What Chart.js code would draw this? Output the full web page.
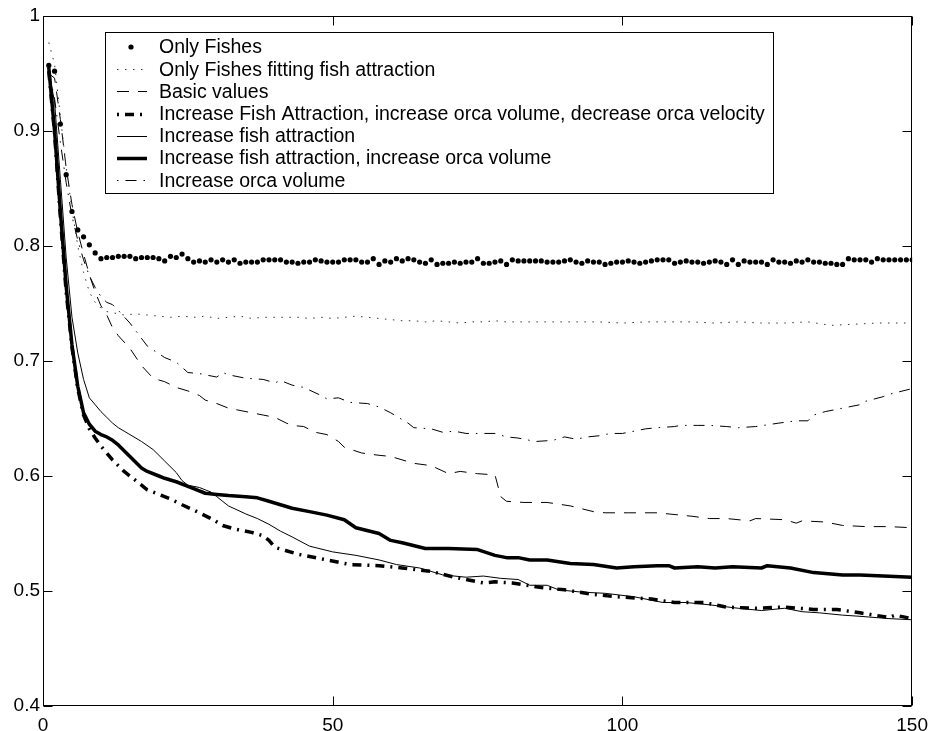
<!DOCTYPE html>
<html><head><meta charset="utf-8">
<script src="https://cdn.jsdelivr.net/npm/chart.js@4/dist/chart.umd.min.js"></script>
<style>html,body{margin:0;padding:0;background:#fff;}#wrap{width:936px;height:731px;position:relative;}</style>
</head><body><div id="wrap"><canvas id="c" width="936" height="731"></canvas></div>
<script>
// ---- DATA ----
const seriesNames = [
  'Only Fishes',
  'Only Fishes fitting fish attraction',
  'Basic values',
  'Increase Fish Attraction, increase orca volume, decrease orca velocity',
  'Increase fish attraction',
  'Increase fish attraction, increase orca volume',
  'Increase orca volume'
];
// Only Fishes: one value per step, steps 1..150
const onlyFishes = [
0.957,0.952,0.906,0.862,0.830,0.814,0.808,0.801,0.794,0.789,
0.790,0.790,0.791,0.791,0.791,0.789,0.790,0.790,0.790,0.789,
0.787,0.791,0.790,0.793,0.789,0.786,0.787,0.786,0.788,0.786,
0.788,0.786,0.788,0.785,0.786,0.786,0.786,0.788,0.788,0.788,
0.788,0.786,0.786,0.785,0.786,0.786,0.788,0.787,0.786,0.786,
0.786,0.788,0.788,0.788,0.786,0.786,0.789,0.784,0.787,0.786,
0.789,0.787,0.789,0.788,0.786,0.785,0.788,0.784,0.785,0.785,
0.786,0.785,0.786,0.786,0.789,0.785,0.785,0.786,0.787,0.784,
0.788,0.787,0.787,0.787,0.787,0.787,0.786,0.786,0.786,0.787,
0.788,0.786,0.785,0.787,0.786,0.786,0.784,0.785,0.786,0.786,
0.787,0.786,0.785,0.786,0.787,0.788,0.788,0.788,0.785,0.786,
0.787,0.786,0.786,0.785,0.786,0.787,0.786,0.784,0.788,0.784,
0.787,0.786,0.786,0.786,0.784,0.788,0.786,0.786,0.785,0.787,
0.786,0.788,0.786,0.786,0.785,0.785,0.784,0.784,0.789,0.788,
0.788,0.788,0.786,0.789,0.788,0.788,0.788,0.788,0.788,0.788];

const fitX = [1,2,3,4,5,6,7,8,9,10,11,12,14,16,18,20,22,24,26,28,30,32,34,36,38,40,42,44,46,48,50,52,54,56,58,60,62,64,66,68,70,72,74,76,78,80,84,88,92,96,100,104,108,112,116,120,124,128,132,136,140,144,148,150];
const fitY = [0.977,0.958,0.913,0.868,0.832,0.800,0.777,0.760,0.751,0.746,
0.743,0.742,0.740,0.741,0.740,0.739,0.738,0.739,0.738,0.739,
0.737,0.738,0.739,0.737,0.738,0.738,0.738,0.738,0.737,0.738,
0.737,0.738,0.739,0.738,0.737,0.736,0.735,0.735,0.734,0.735,
0.734,0.733,0.734,0.734,0.735,0.734,0.734,0.734,0.734,0.734,
0.733,0.734,0.734,0.734,0.733,0.734,0.733,0.733,0.734,0.731,
0.732,0.733,0.733,0.733];

const basicX = [1,2,3,4,5,6,7,8,9,10,11,12,13,15,17,19,21,23,25,27,28,30,32,34,36,38,40,42,43,45,47,49,51,52,55,58,60,64,67,70,72,75,78,79,80,83,87,91,95,97,101,106,110,112,115,118,122,123,128,130,131,135,138,142,146,150];
const basicY = [0.950,0.946,0.910,0.868,0.836,0.812,0.793,0.775,0.760,0.748,
0.740,0.729,0.722,0.711,0.696,0.685,0.682,0.677,0.674,0.670,
0.666,0.663,0.659,0.657,0.655,0.653,0.651,0.646,0.644,0.643,
0.638,0.636,0.630,0.625,0.620,0.618,0.617,0.611,0.609,0.602,
0.604,0.602,0.601,0.582,0.578,0.577,0.577,0.574,0.569,0.568,
0.568,0.568,0.566,0.565,0.563,0.563,0.561,0.563,0.562,0.559,
0.561,0.560,0.557,0.556,0.556,0.555];

const velX = [1,2,3,4,5,6,7,8,9,10,11,12,13,14,15,16,18,20,22,24,27,29,31,33,36,38,39,40,42,44,46,49,53,58,62,67,71,73,76,78,81,86,90,95,99,105,109,114,118,123,128,133,137,141,146,147,150];
const velY = [0.952,0.898,0.825,0.760,0.712,0.676,0.653,0.641,0.633,0.626,
0.620,0.614,0.609,0.604,0.600,0.596,0.588,0.584,0.580,0.575,
0.568,0.563,0.557,0.554,0.551,0.548,0.544,0.538,0.535,0.532,
0.530,0.527,0.523,0.522,0.520,0.517,0.512,0.510,0.507,0.508,
0.507,0.503,0.501,0.497,0.495,0.493,0.490,0.490,0.486,0.485,
0.486,0.484,0.484,0.481,0.477,0.479,0.476];

const faX = [1,2,3,4,5,6,7,8,9,10,11,12,13,14,15,17,19,21,23,24,25,27,28,29,30,32,35,37,39,41,43,46,50,54,58,61,65,69,73,76,79,82,84,87,89,93,97,102,107,111,115,120,124,128,131,134,138,141,146,150];
const faY = [0.952,0.925,0.858,0.790,0.738,0.707,0.684,0.668,0.662,0.656,
0.651,0.646,0.642,0.639,0.636,0.630,0.623,0.613,0.603,0.596,
0.592,0.590,0.588,0.586,0.582,0.574,0.567,0.563,0.558,0.552,
0.547,0.539,0.534,0.531,0.527,0.523,0.520,0.514,0.512,0.513,
0.511,0.510,0.505,0.505,0.501,0.499,0.498,0.495,0.490,0.490,
0.488,0.485,0.483,0.485,0.482,0.481,0.479,0.478,0.476,0.475];

const faOvX = [1,2,3,4,5,6,7,8,9,10,11,12,13,14,15,16,17,18,20,21,23,25,26,28,30,32,35,37,39,43,46,49,52,54,58,60,62,66,70,75,78,80,82,84,87,91,95,99,102,106,108,109,113,116,119,124,125,129,133,138,141,145,150];
const faOvY = [0.955,0.900,0.830,0.765,0.714,0.678,0.655,0.645,0.639,0.636,
0.634,0.631,0.627,0.622,0.617,0.612,0.607,0.604,0.600,0.598,
0.595,0.591,0.589,0.585,0.584,0.583,0.582,0.581,0.578,0.572,
0.569,0.566,0.562,0.555,0.550,0.544,0.542,0.537,0.537,0.536,
0.531,0.529,0.529,0.527,0.527,0.524,0.523,0.520,0.521,0.522,
0.522,0.520,0.521,0.520,0.521,0.520,0.522,0.520,0.516,0.514,
0.514,0.513,0.512];

const orcaX = [1,2,3,4,5,6,7,8,9,10,11,12,13,15,18,21,23,25,27,30,31,32,35,38,40,41,43,45,48,49,51,53,56,58,60,62,63,64,67,69,71,73,76,78,80,82,85,88,90,92,94,96,98,100,102,104,106,109,110,113,115,118,120,123,127,130,132,133,135,138,141,142,145,146,150];
const orcaY = [0.952,0.928,0.890,0.855,0.826,0.805,0.788,0.774,0.764,0.756,
0.751,0.749,0.744,0.733,0.713,0.703,0.699,0.690,0.689,0.686,
0.690,0.688,0.685,0.684,0.681,0.683,0.679,0.677,0.670,0.667,
0.668,0.664,0.663,0.660,0.655,0.649,0.646,0.642,0.641,0.638,
0.639,0.637,0.637,0.637,0.634,0.633,0.630,0.631,0.634,0.632,
0.634,0.635,0.637,0.637,0.639,0.641,0.642,0.643,0.644,0.644,
0.644,0.643,0.642,0.643,0.646,0.648,0.648,0.653,0.656,0.659,
0.662,0.665,0.669,0.671,0.676];

const xTicks = [0, 50, 100, 150];
const xTickLabels = ['0', '50', '100', '150'];
const yTicks = [0.4, 0.5, 0.6, 0.7, 0.8, 0.9, 1];
const yTickLabels = ['0.4', '0.5', '0.6', '0.7', '0.8', '0.9', '1'];

// ---- CHART ----
const FONT = '"Liberation Sans", Arial, Helvetica, sans-serif';
const pts = (xs, ys) => xs.map((x, i) => ({x: x, y: ys[i]}));

const styles = [
  {dot: true},
  {color: '#333', width: 1, dash: [1.5, 6.5]},
  {color: '#000', width: 1, dash: [12, 9]},
  {color: '#000', width: 3.5, dash: [9, 6, 2, 6]},
  {color: '#000', width: 1, dash: []},
  {color: '#000', width: 3.5, dash: []},
  {color: '#000', width: 1, dash: [11, 7, 1.5, 7]}
];
const seriesData = [
  onlyFishes.map((v, i) => ({x: i + 1, y: v})),
  pts(fitX, fitY), pts(basicX, basicY), pts(velX, velY),
  pts(faX, faY), pts(faOvX, faOvY), pts(orcaX, orcaY)
];

const datasets = seriesNames.map((name, i) => {
  const s = styles[i];
  if (s.dot) return {label: name, data: seriesData[i], showLine: false,
    pointRadius: 2.6, pointBackgroundColor: '#000', pointBorderWidth: 0, pointHoverRadius: 2.6};
  return {label: name, data: seriesData[i], borderColor: s.color, borderWidth: s.width,
    borderDash: s.dash, pointRadius: 0, tension: 0, fill: false, borderCapStyle: 'butt', borderJoinStyle: 'round'};
});

const framePlugin = {
  id: 'frame',
  afterDatasetsDraw(chart) {
    const {ctx, chartArea: a, scales} = chart;
    const L = Math.round(a.left) + 0.5, R = Math.round(a.right) - 0.5;
    const T = Math.round(a.top) + 0.5, B = Math.round(a.bottom) - 0.5;
    ctx.save();
    ctx.strokeStyle = '#000'; ctx.lineWidth = 1; ctx.setLineDash([]);
    ctx.strokeRect(L, T, R - L, B - T);
    const len = 9;
    ctx.beginPath();
    xTicks.forEach(v => {
      const px = Math.round(scales.x.getPixelForValue(v)) + 0.5;
      ctx.moveTo(px, B); ctx.lineTo(px, B - len);
      ctx.moveTo(px, T); ctx.lineTo(px, T + len);
    });
    yTicks.forEach(v => {
      const py = Math.round(scales.y.getPixelForValue(v)) + 0.5;
      ctx.moveTo(L, py); ctx.lineTo(L + len, py);
      ctx.moveTo(R, py); ctx.lineTo(R - len, py);
    });
    ctx.stroke();
    ctx.restore();
  }
};

const legendPlugin = {
  id: 'boxLegend',
  afterDraw(chart) {
    const ctx = chart.ctx;
    const bx = 105.5, by = 32.5, bw = 668, bh = 161;
    ctx.save();
    ctx.fillStyle = '#fff'; ctx.fillRect(bx, by, bw, bh);
    ctx.strokeStyle = '#000'; ctx.lineWidth = 1; ctx.setLineDash([]);
    ctx.strokeRect(bx, by, bw, bh);
    const x0 = 117, x1 = 147, tx = 159;
    ctx.font = '19.5px ' + FONT; ctx.textBaseline = 'middle'; ctx.fillStyle = '#000';
    seriesNames.forEach((name, i) => {
      const y = 47 + i * 22.2;
      const s = styles[i];
      if (s.dot) {
        ctx.beginPath(); ctx.arc(131, y, 2.6, 0, Math.PI * 2); ctx.fill();
      } else {
        ctx.beginPath();
        ctx.strokeStyle = s.color; ctx.lineWidth = s.width; ctx.lineCap = 'butt';
        ctx.setLineDash(s.dash);
        ctx.lineDashOffset = (s.dash.length === 4) ? (s.dash[0] + s.dash[1]) : 0;
        ctx.moveTo(x0, Math.round(y) + (s.width % 2 ? 0.5 : 0)); ctx.lineTo(x1, Math.round(y) + (s.width % 2 ? 0.5 : 0));
        ctx.stroke();
        ctx.setLineDash([]); ctx.lineDashOffset = 0;
      }
      ctx.fillStyle = '#000';
      ctx.fillText(name, tx, y + 1);
    });
    ctx.restore();
  }
};

new Chart(document.getElementById('c'), {
  type: 'line',
  data: {datasets: datasets},
  options: {
    responsive: false, animation: false, devicePixelRatio: 1,
    layout: {padding: {top: 16, right: 18, left: 0, bottom: 0}},
    plugins: {legend: {display: false}, tooltip: {enabled: false}},
    events: [],
    scales: {
      x: {
        type: 'linear', min: 0, max: 150,
        grid: {display: false, drawTicks: false},
        border: {display: false},
        afterBuildTicks(s) { s.ticks = xTicks.map(v => ({value: v})); },
        afterFit(s) { s.height = 25; },
        ticks: {color: '#000', padding: 8, maxRotation: 0, autoSkip: false,
          font: {family: FONT, size: 19},
          callback: (v, i) => xTickLabels[i]}
      },
      y: {
        type: 'linear', min: 0.4, max: 1,
        grid: {display: false, drawTicks: false},
        border: {display: false},
        afterBuildTicks(s) { s.ticks = yTicks.map(v => ({value: v})); },
        afterFit(s) { s.width = 43; },
        ticks: {color: '#000', padding: 3, autoSkip: false,
          font: {family: FONT, size: 19},
          callback: (v, i) => yTickLabels[i]}
      }
    }
  },
  plugins: [framePlugin, legendPlugin]
});
</script>
</body></html>
